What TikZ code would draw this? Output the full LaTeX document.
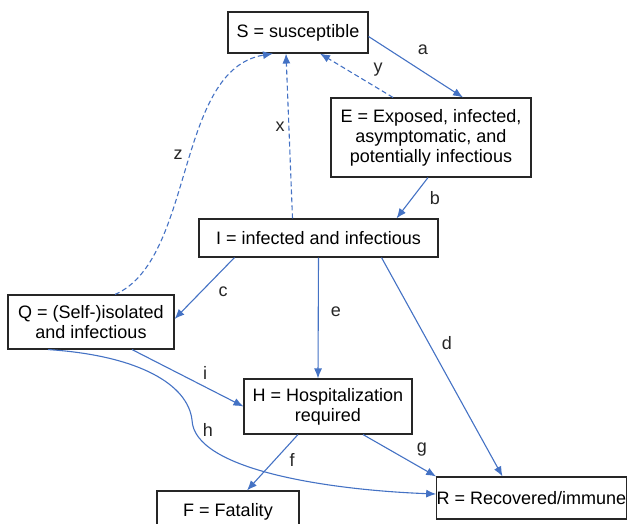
\documentclass[tikz,border=0pt]{standalone}
\usepackage{fontspec}
\setmainfont{Liberation Sans}
\usetikzlibrary{arrows.meta}
\definecolor{flowblue}{RGB}{68,114,196}
\begin{document}
\begin{tikzpicture}[x=1pt,y=-1pt,
	font=\fontsize{18}{20}\selectfont,
	state/.style={draw=black!85,line width=1.1pt,fill=white,align=center,inner sep=0pt},
	flow/.style={draw=flowblue,line width=1.1pt,-{Latex[length=10pt,width=8pt]}},
	back/.style={flow,dash pattern=on 5pt off 3pt},
	lbl/.style={text=black!85,inner sep=0pt}]
	\useasboundingbox (0,0) rectangle (627,523);
	% compartments
	\node[state,minimum width=140,minimum height=41] (S) at (298,32.5) {S = susceptible};
	\node[state,minimum width=200,minimum height=79] (E) at (431,137.5) {E = Exposed, infected,\\asymptomatic, and\\potentially infectious};
	\node[state,minimum width=239,minimum height=38] (I) at (318.5,238) {I = infected and infectious};
	\node[state,minimum width=166,minimum height=54] (Q) at (91,322) {Q = (Self-)isolated\\and infectious};
	\node[state,minimum width=168,minimum height=55] (H) at (328,406.5) {H = Hospitalization\\required};
	\node[state,minimum width=142,minimum height=41] (F) at (228,511.5) {F = Fatality};
	\node[state,minimum width=188,minimum height=42] (R) at (531.5,498) {R = Recovered/immune};
	
	% transitions
	\draw[flow] ([yshift=-4pt]S.east)--([xshift=32pt]E.north);
	\draw[back] ([xshift=-38pt]E.north)--([xshift=22pt]S.south);
	\draw[back] ([xshift=-26pt]I.north)--([xshift=-12pt]S.south);
	\draw[back] ([xshift=24pt]Q.north) .. controls +(80,-35) and +(-98,16) .. ([xshift=-25pt]S.south);
	\draw[flow] ([xshift=-3pt]E.south)--([xshift=78pt]I.north);
	\draw[flow] ([xshift=-84pt]I.south)--([yshift=3pt]Q.east);
	\draw[flow] (I.south)--([xshift=-10pt]H.north);
	\draw[flow] ([xshift=63pt]I.south)--([xshift=-29pt]R.north);
	\draw[flow] ([xshift=41pt]Q.south)--(H.west);
	\coordinate (hbend) at (192,420);
	\draw[flow] ([xshift=-43pt]Q.south) .. controls +(92,6) and +(-4,-35) .. (hbend)
		.. controls +(2,50) and +(-107,-4) .. ([yshift=4pt]R.west);
	\draw[flow] ([xshift=-30pt]H.south)--([xshift=19pt]F.north);
	\draw[flow] ([xshift=35pt]H.south)--(R.north west);
	
	% rates
	\node[lbl] (la) at (423,50) {a};
	\node[lbl] (ly) at (378,70) {y};
	\node[lbl] (lx) at (280,127) {x};
	\node[lbl] (lz) at (178,155) {z};
	\node[lbl] (lb) at (435,198) {b};
	\node[lbl] (lc) at (223,292) {c};
	\node[lbl] (le) at (336,312) {e};
	\node[lbl] (ld) at (447,343) {d};
	\node[lbl] (li) at (205,373) {i};
	\node[lbl] (lh) at (208,430) {h};
	\node[lbl] (lf) at (292,460) {f};
	\node[lbl] (lg) at (422,450) {g};
\end{tikzpicture}
\end{document}
